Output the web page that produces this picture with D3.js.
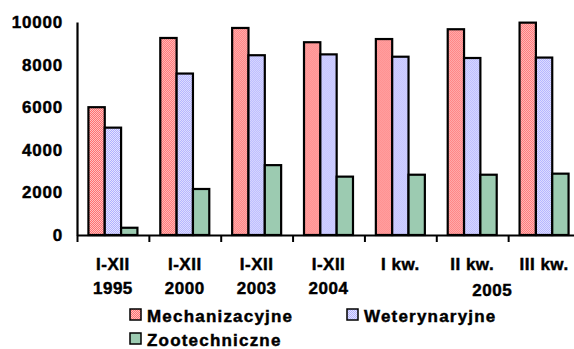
<!DOCTYPE html>
<html>
<head>
<meta charset="utf-8">
<script src="https://cdn.jsdelivr.net/npm/d3@7"></script>
<style>
  body { margin: 0; background: #fff; }
  svg text { font-family: "Liberation Sans", Arial, sans-serif; font-weight: bold; fill: #000; stroke: #000; stroke-width: 0.45px; }
</style>
</head>
<body>
<div id="chart"></div>
<script>
// categories (two-line labels)
let periods = ["I-XII 1995", "I-XII 2000", "I-XII 2003", "I-XII 2004", "I kw. 2005", "II kw. 2005", "III kw. 2005"];
let topLabels = ["I-XII", "I-XII", "I-XII", "I-XII", "I kw.", "II kw.", "III kw."];
let bottomLabels = ["1995", "2000", "2003", "2004", "", "", ""];
let groupLabel = "2005";

let seriesNames = ["Mechanizacyjne", "Weterynaryjne", "Zootechniczne"];
let mechanizacyjne = [6000, 9250, 9720, 9050, 9200, 9660, 9970];
let weterynaryjne = [5040, 7580, 8440, 8480, 8370, 8310, 8330];
let zootechniczne = [340, 2160, 3280, 2740, 2830, 2830, 2880];
let yTicks = [0, 2000, 4000, 6000, 8000, 10000];

let width = 574, height = 349;
let margin = { top: 22, left: 77, bottom: 114 };
let plotRight = 580;
let baseY = height - margin.bottom;

let svg = d3.select("#chart").append("svg")
	.attr("width", width)
	.attr("height", height);

// fill patterns (dithered like the original)
let defs = svg.append("defs");
function checker(id, c1, c2) {
	let p = defs.append("pattern")
		.attr("id", id)
		.attr("width", 2).attr("height", 2)
		.attr("patternUnits", "userSpaceOnUse");
	p.append("rect").attr("width", 2).attr("height", 2).attr("fill", c2);
	p.append("rect").attr("width", 1).attr("height", 1).attr("fill", c1);
	p.append("rect").attr("x", 1).attr("y", 1).attr("width", 1).attr("height", 1).attr("fill", c1);
}
checker("pRed", "#ff7070", "#ffc0c0");
checker("pBlue", "#b0b0ff", "#e4e4ff");
let fills = ["url(#pRed)", "url(#pBlue)", "#9ccbb1"];

let data = periods.map((p, i) => ({
	period: p,
	values: [mechanizacyjne[i], weterynaryjne[i], zootechniczne[i]]
}));

// scales
let x = d3.scaleBand()
	.domain(periods)
	.range([margin.left, plotRight])
	.paddingInner(0).paddingOuter(0);

let xSub = d3.scaleBand()
	.domain(seriesNames)
	.range([0, x.bandwidth()])
	.paddingInner(0).paddingOuter(0.7);

let y = d3.scaleLinear()
	.domain([0, 10000])
	.range([baseY, margin.top]);

// bars
let groups = svg.append("g").selectAll("g")
	.data(data)
	.join("g")
	.attr("transform", d => "translate(" + x(d.period) + ",0)");

groups.selectAll("rect")
	.data(d => d.values.map((v, k) => ({ name: seriesNames[k], value: v, k: k })))
	.join("rect")
	.attr("x", d => xSub(d.name))
	.attr("y", d => y(d.value))
	.attr("width", xSub.bandwidth())
	.attr("height", d => baseY - y(d.value))
	.attr("fill", d => fills[d.k])
	.attr("stroke", "#000")
	.attr("stroke-width", 2.2);

// y axis
let yAxis = d3.axisLeft(y)
	.tickValues(yTicks)
	.tickSize(0)
	.tickPadding(14)
	.tickFormat(d3.format("d"));

let yG = svg.append("g")
	.attr("transform", "translate(" + margin.left + ",0)")
	.call(yAxis);
yG.select(".domain").attr("stroke", "#000").attr("stroke-width", 2.2);
yG.selectAll("text")
	.attr("font-size", 17)
	.attr("letter-spacing", 0.8);

// x axis with ticks at category boundaries
let xEdge = d3.scaleLinear().domain([0, periods.length]).range([margin.left, plotRight]);
let xAxis = d3.axisBottom(xEdge)
	.ticks(periods.length)
	.tickSizeInner(7)
	.tickSizeOuter(0)
	.tickFormat("");

let xG = svg.append("g")
	.attr("transform", "translate(0," + baseY + ")")
	.call(xAxis);
xG.select(".domain").attr("stroke", "#000").attr("stroke-width", 2.2);
xG.selectAll(".tick line").attr("stroke", "#000").attr("stroke-width", 2);

// category labels
let labels = svg.append("g");
labels.selectAll("text.top")
	.data(periods)
	.join("text")
	.attr("class", "top")
	.attr("x", d => x(d) + x.bandwidth() / 2)
	.attr("y", 270)
	.attr("text-anchor", "middle")
	.attr("font-size", 17)
	.attr("letter-spacing", 0.5)
	.text((d, i) => topLabels[i]);

labels.selectAll("text.bottom")
	.data(periods)
	.join("text")
	.attr("class", "bottom")
	.attr("x", d => x(d) + x.bandwidth() / 2)
	.attr("y", 294)
	.attr("text-anchor", "middle")
	.attr("font-size", 17)
	.attr("letter-spacing", 0.5)
	.text((d, i) => bottomLabels[i]);

labels.append("text")
	.attr("x", x(periods[5]) + x.bandwidth() / 2 + 20)
	.attr("y", 296)
	.attr("text-anchor", "middle")
	.attr("font-size", 17)
	.attr("letter-spacing", 0.5)
	.text(groupLabel);

// legend
let legendPos = [[130, 309], [347, 309], [130, 333]];
let legend = svg.append("g").selectAll("g")
	.data(seriesNames)
	.join("g")
	.attr("transform", (d, i) => "translate(" + legendPos[i][0] + "," + legendPos[i][1] + ")");

legend.append("rect")
	.attr("width", 11)
	.attr("height", 11)
	.attr("fill", (d, i) => fills[i])
	.attr("stroke", "#000")
	.attr("stroke-width", 1.5);

legend.append("text")
	.attr("x", 17)
	.attr("y", 13)
	.attr("font-size", 17)
	.attr("letter-spacing", 1.2)
	.text(d => d);
</script>
</body>
</html>
